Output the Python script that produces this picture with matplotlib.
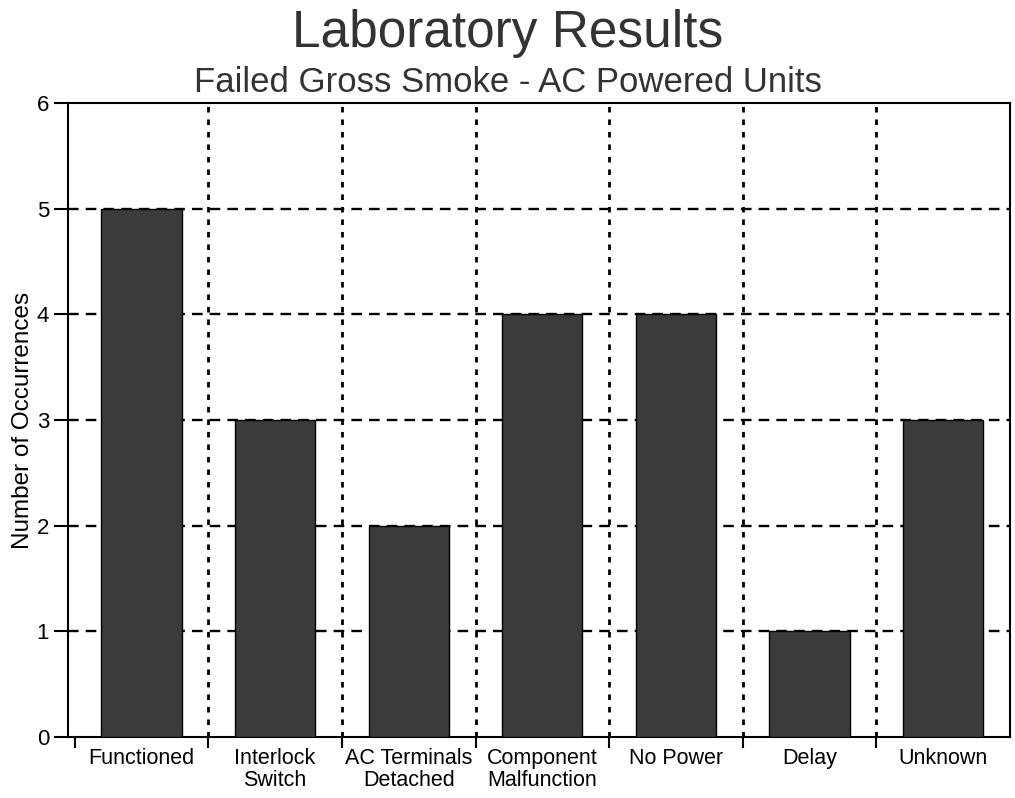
import numpy as np
from matplotlib import pyplot as plt

plt.rcParams['font.family'] = ['Liberation Sans', 'DejaVu Sans']

categories = ["Functioned", "Interlock\nSwitch", "AC Terminals\nDetached",
              "Component\nMalfunction", "No Power", "Delay", "Unknown"]
counts = [5, 3, 2, 4, 4, 1, 3]

fig = plt.figure(figsize=(10.15, 7.98), dpi=100)
ax = fig.add_axes([68/1015, 1-737/798, (1010-68)/1015, (737-103)/798])

x = np.arange(len(categories))
ax.bar(x, counts, width=0.6, color="#3b3b3b", edgecolor="black", lw=1, zorder=3)

ax.set_xlim(-0.55, len(categories)-0.5)
ax.set_ylim(0, 6)
ax.set_yticks(range(7))
ax.tick_params(axis="y", labelsize=16, length=10, width=1.5, direction="out")

# category boundaries carry the x ticks and vertical gridlines
bounds = np.arange(len(categories)+1) - 0.5
ax.set_xticks(bounds[:-1])
ax.set_xticklabels([])
ax.set_xticks(x, minor=True)
ax.set_xticklabels(categories, minor=True, fontsize=15.5, linespacing=1.05)
ax.tick_params(axis="x", which="minor", length=0, pad=8)
ax.tick_params(axis="x", which="major", length=8, width=1.5, direction="out")

for b in bounds[1:-1]:
    ax.axvline(b, color="black", ls=(0, (2, 2.5)), lw=2, zorder=1)
for yv in range(1, 6):
    ax.axhline(yv, color="black", ls=(0, (4.5, 3)), lw=1.7, zorder=1)

for s in ax.spines.values():
    s.set_linewidth(1.5)

ax.set_ylabel("Number of Occurrences", fontsize=17.5, labelpad=2)

fig.text(0.5, 1-47/798, "Laboratory Results", ha="center", va="baseline", fontsize=37, color="#333333")
fig.text(0.5, 1-92/798, "Failed Gross Smoke - AC Powered Units", ha="center", va="baseline", fontsize=25, color="#333333")

fig.savefig("out.png", dpi=100)
